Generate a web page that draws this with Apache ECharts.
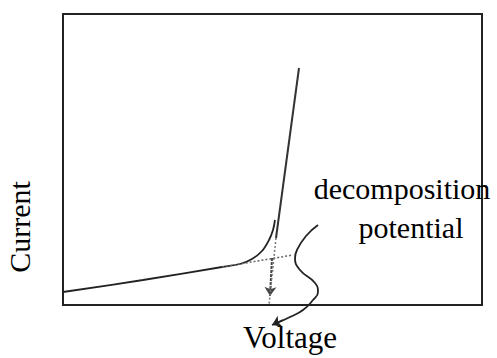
<!DOCTYPE html>
<html>
<head>
<meta charset="utf-8">
<script src="https://cdn.jsdelivr.net/npm/echarts@6/dist/echarts.min.js"></script>
<style>html,body{margin:0;padding:0;background:#fff}#c{width:497px;height:358px}</style>
</head>
<body>
<div id="c"></div>
<script>
// Values in arbitrary axis units (voltage along x, current along y)
var currentCurve = [[0,13],[80,25],[159,38],[177,41],[189,46],[199,54],[206,65],[210,75],[212,85]];
var steepLine = [[213,67],[236,237]];
var steepExtension = [[213,67],[206,0]];
var baseExtension = [[159,38],[230,50]];
var dropArrow = [[209,47],[207,9]];
var pointerCurve = [[255,80],[243,69],[234,55],[232,47],[237,35],[252,22],[255,13],[250,5],[240,-5],[227,-12],[214,-18]];
var pointerTip = [[220,-15],[209,-20]];
var labels = {x: 'Voltage', y: 'Current', note1: 'decomposition', note2: 'potential'};

var chart = echarts.init(document.getElementById('c'), null, {renderer: 'svg'});
var font = '"Liberation Serif","Times New Roman",serif';
chart.setOption({
  animation: false,
  grid: {left: 63, right: 15, top: 14, bottom: 53, show: true, borderColor: '#222', borderWidth: 2, backgroundColor: 'transparent'},
  xAxis: {type: 'value', min: 0, max: 419, show: false},
  yAxis: {type: 'value', min: 0, max: 291, show: false},
  series: [
    {type: 'line', data: currentCurve, smooth: 0.35, showSymbol: false, clip: false,
     lineStyle: {color: '#222', width: 1.8}},
    {type: 'line', data: steepLine, showSymbol: false, clip: false,
     lineStyle: {color: '#333', width: 2}},
    {type: 'line', data: steepExtension, showSymbol: false, clip: false,
     lineStyle: {color: '#777', width: 1.5, type: [2, 2]}},
    {type: 'line', data: baseExtension, showSymbol: false, clip: false,
     lineStyle: {color: '#666', width: 1.5, type: [2, 2]}},
    {type: 'lines', coordinateSystem: 'cartesian2d', clip: false,
     symbol: ['none', 'arrow'], symbolSize: 9,
     lineStyle: {color: '#444', width: 2, type: [3, 1], opacity: 1},
     data: [{coords: dropArrow}]},
    {type: 'line', data: pointerCurve, smooth: 0.5, showSymbol: false, clip: false,
     lineStyle: {color: '#222', width: 1.8}},
    {type: 'lines', coordinateSystem: 'cartesian2d', clip: false,
     symbol: ['none', 'arrow'], symbolSize: 9,
     lineStyle: {color: '#222', width: 1.8, opacity: 1},
     data: [{coords: pointerTip}]}
  ],
  graphic: [
    {type: 'text', x: 290, y: 353, style: {text: labels.x, font: '31px ' + font, fill: '#000', textAlign: 'center', textVerticalAlign: 'bottom'}},
    {type: 'text', x: 402, y: 203, style: {text: labels.note1, font: '30px ' + font, fill: '#000', textAlign: 'center', textVerticalAlign: 'bottom'}},
    {type: 'text', x: 411, y: 242, style: {text: labels.note2, font: '30px ' + font, fill: '#000', textAlign: 'center', textVerticalAlign: 'bottom'}},
    {type: 'text', x: 34, y: 227, rotation: Math.PI / 2, style: {text: labels.y, font: '30px ' + font, fill: '#000', textAlign: 'center', textVerticalAlign: 'bottom'}}
  ]
});
</script>
</body>
</html>
